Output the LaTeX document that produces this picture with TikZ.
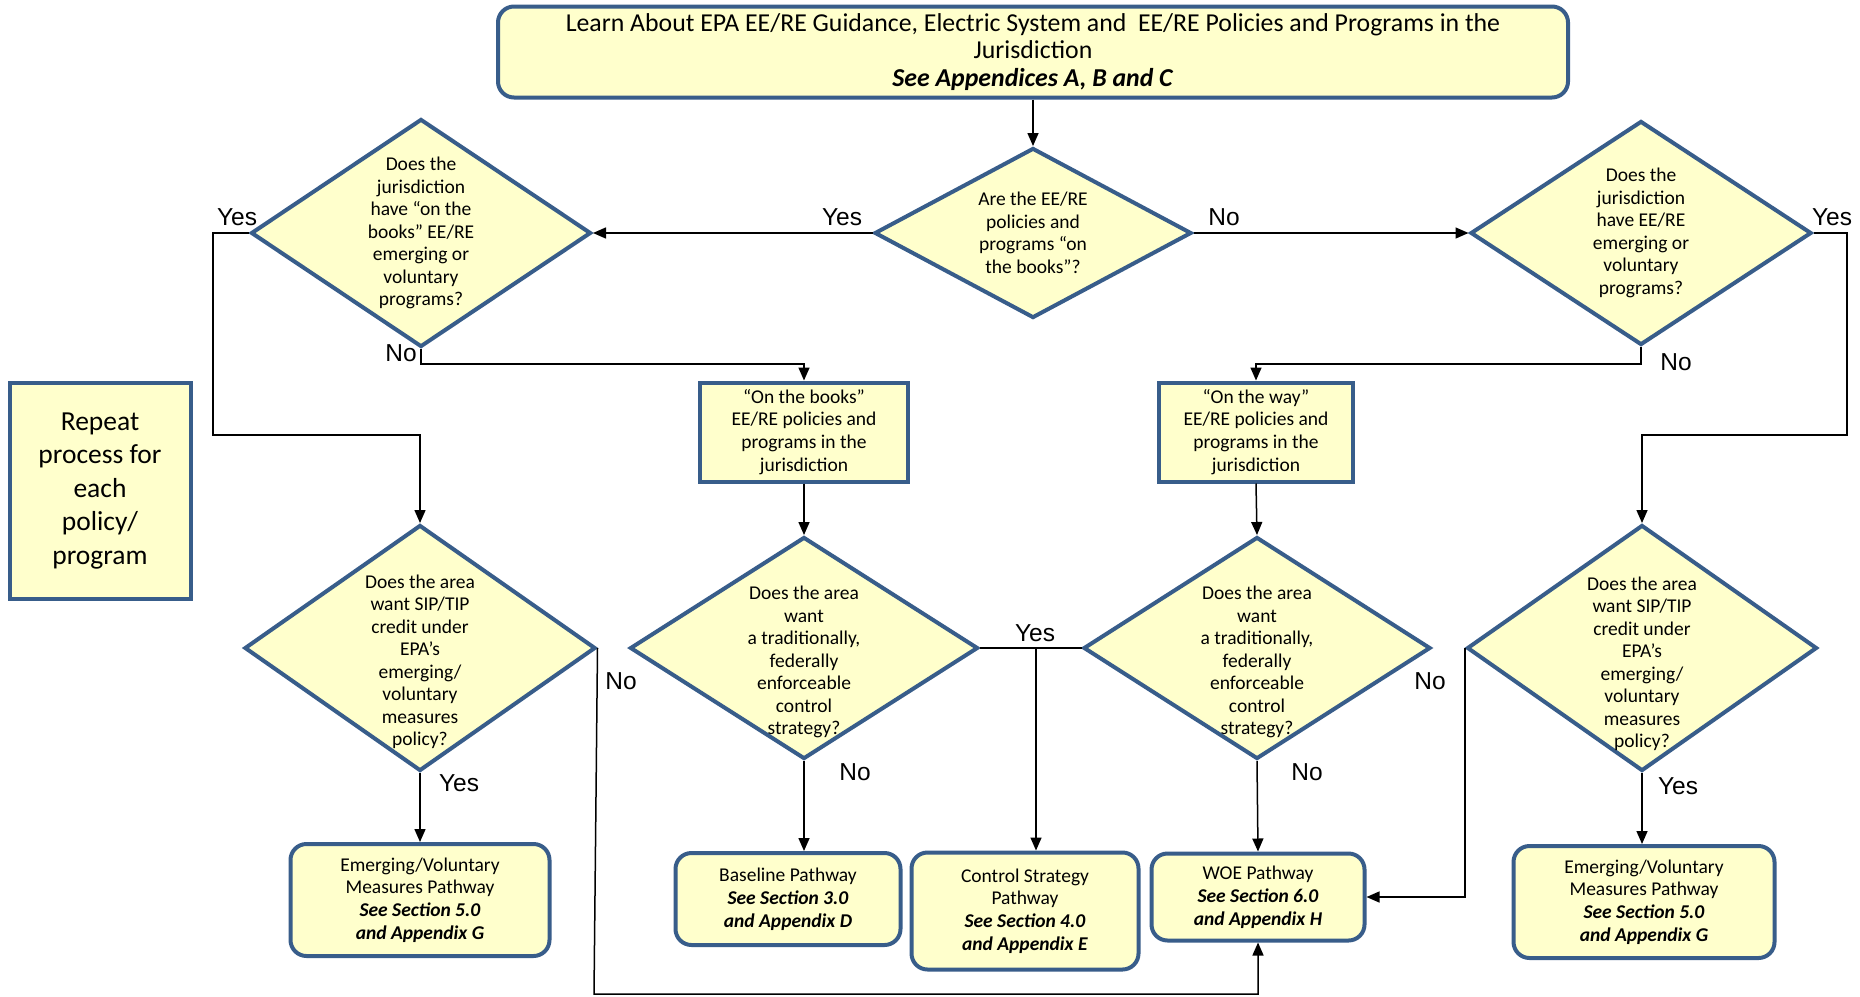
\documentclass[tikz,border=0pt]{standalone}
\usepackage{fontspec}
\setmainfont{Carlito}
\newfontfamily\arialf{Liberation Sans}
\usetikzlibrary{shapes.geometric,arrows.meta,calc}
\definecolor{bordc}{HTML}{385D8A}
\definecolor{fillc}{HTML}{FFFFCC}
\newcommand\bfitx[1]{\textbf{\textit{#1}}}
\begin{document}
\begin{tikzpicture}[x=1pt,y=-1pt,
  sq/.style={draw=bordc, fill=fillc, line width=4pt, align=center, inner sep=0pt, font=\fontsize{19.5}{22.8}\selectfont},
  rbox/.style={sq, rounded corners=16pt},
  dia/.style={diamond, draw=bordc, fill=fillc, line width=4pt, inner sep=0pt},
  dtxt/.style={align=center, font=\fontsize{19.5}{22.5}\selectfont, inner sep=0pt},
  conn/.style={line width=1.5pt, draw=black},
  arr/.style={conn, -{Triangle[length=13pt,width=11pt]}},
  yn/.style={font=\arialf\fontsize{24.5}{24.5}\selectfont, inner sep=0pt}]
\fill[white] (0,0) rectangle (1860,996);
\useasboundingbox (0,0) rectangle (1860,996);

% boxes
\node[rbox, minimum width=1070pt, minimum height=91pt, font=\fontsize{25.8}{27.5}\selectfont] (top) at (1033,52)
  {Learn About EPA EE/RE Guidance, Electric System and\ \ EE/RE Policies and Programs in the\\ Jurisdiction\\ \bfitx{See Appendices A, B and C}};

\node[dia, minimum width=317pt, minimum height=170pt,
  label={[dtxt]center:{Are the EE/RE\\policies and\\programs “on\\the books”?}}] (c0) at (1033,233) {};
\node[dia, minimum width=340pt, minimum height=228pt,
  label={[dtxt]center:{Does the\\jurisdiction\\have “on the\\books” EE/RE\\emerging or\\voluntary\\programs?}}] (d1) at (421,233) {};
\node[dia, minimum width=341pt, minimum height=224pt,
  label={[dtxt]center:{Does the\\jurisdiction\\have EE/RE\\emerging or\\voluntary\\programs?}}] (d2) at (1641,233) {};

\node[sq, minimum width=208pt, minimum height=99pt] (b1) at (804,432)
  {“On the books”\\EE/RE policies and\\programs in the\\jurisdiction};
\node[sq, minimum width=194pt, minimum height=99pt] (b2) at (1256,432)
  {“On the way”\\EE/RE policies and\\programs in the\\jurisdiction};
\node[sq, minimum width=181pt, minimum height=216pt, font=\fontsize{27.5}{33.5}\selectfont] (rep) at (100,491)
  {Repeat\\process for\\each\\policy/\\program};

\node[dia, minimum width=351pt, minimum height=246pt,
  label={[dtxt, yshift=-14pt]center:{Does the area\\want SIP/TIP\\credit under\\EPA’s\\emerging/\\voluntary\\measures\\policy?}}] (d3) at (420,648) {};
\node[dia, minimum width=348pt, minimum height=222pt,
  label={[dtxt, yshift=-14pt]center:{Does the area\\want\\a traditionally,\\federally\\enforceable\\control\\strategy?}}] (d4) at (804,648) {};
\node[dia, minimum width=347pt, minimum height=222pt,
  label={[dtxt, yshift=-14pt]center:{Does the area\\want\\a traditionally,\\federally\\enforceable\\control\\strategy?}}] (d5) at (1257,648) {};
\node[dia, minimum width=350pt, minimum height=246pt,
  label={[dtxt, yshift=-16pt]center:{Does the area\\want SIP/TIP\\credit under\\EPA’s\\emerging/\\voluntary\\measures\\policy?}}] (d6) at (1642,648) {};

\node[rbox, minimum width=259pt, minimum height=112pt] (e1) at (420,900)
  {Emerging/Voluntary\\Measures Pathway\\\bfitx{See Section 5.0}\\\bfitx{and Appendix G}};
\node[rbox, minimum width=225pt, minimum height=92pt] (base) at (788,899)
  {Baseline Pathway\\\bfitx{See Section 3.0}\\\bfitx{and Appendix D}};
\node[rbox, minimum width=227pt, minimum height=117pt] (ctrl) at (1025,911)
  {Control Strategy\\Pathway\\\bfitx{See Section 4.0}\\\bfitx{and Appendix E}};
\node[rbox, minimum width=213pt, minimum height=87pt] (woe) at (1258,897)
  {WOE Pathway\\\bfitx{See Section 6.0}\\\bfitx{and Appendix H}};
\node[rbox, minimum width=261pt, minimum height=112pt] (e2) at (1644,902)
  {Emerging/Voluntary\\Measures Pathway\\\bfitx{See Section 5.0}\\\bfitx{and Appendix G}};

% helper coordinates
\coordinate (l1) at (213,435);
\coordinate (n1) at (421,364);
\coordinate (n2) at (1641,364);
\coordinate (r2) at (1847,435);
\coordinate (r3) at (594,994);
\coordinate (jn) at (1036,648);

% connectors
\draw[arr] (top.south) -- (c0.north);
\draw[arr] (c0.west) -- (d1.east);
\draw[arr] (c0.east) -- (d2.west);
\draw[arr] (d1.west) -| (l1) -| (d3.north);
\draw[arr] (d1.south) -- (n1) -| (b1.north);
\draw[arr] (d2.south) -- (n2) -| (b2.north);
\draw[arr] (d2.east) -| (r2) -| (d6.north);
\draw[arr] (b1.south) -- (d4.north);
\draw[arr] (b2.south) -- (d5.north);
\draw[arr] (d3.south) -- (e1.north);
\draw[arr] (d3.east) -- (r3) -| (woe.south);
\draw[conn] (d4.east) -- (d5.west);
\draw[arr] (jn) -- (jn |- ctrl.north);
\draw[arr] (d4.south) -- (d4.south |- base.north);
\draw[arr] (d5.south) -- (woe.north);
\draw[arr] (d6.south) -- (d6.south |- e2.north);
\draw[arr] (d6.west) |- (woe.east);

% labels
\node[yn] (y1) at (842,217) {Yes};
\node[yn] (n1l) at (1224,217) {No};
\node[yn] (y2) at (237,217) {Yes};
\node[yn] (n2l) at (401,353) {No};
\node[yn] (y3) at (1832,217) {Yes};
\node[yn] (n3l) at (1676,362) {No};
\node[yn] (n4l) at (621,681) {No};
\node[yn] (y4) at (459,783) {Yes};
\node[yn] (y5) at (1035,633) {Yes};
\node[yn] (n5l) at (855,772) {No};
\node[yn] (n6l) at (1430,681) {No};
\node[yn] (n7l) at (1307,772) {No};
\node[yn] (y6) at (1678,786) {Yes};
\end{tikzpicture}
\end{document}
